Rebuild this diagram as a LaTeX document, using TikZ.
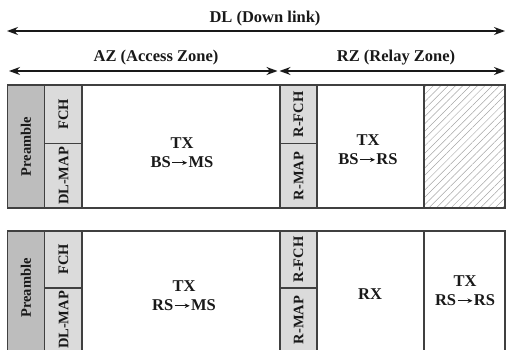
\documentclass[tikz,border=0pt]{standalone}
\usepackage{fontspec}
\setmainfont{Liberation Serif}
\usetikzlibrary{arrows.meta,patterns.meta}

% short arrow used inside the "from -> to" labels
\newcommand{\flowarrow}{\kern1pt\raisebox{2.8pt}{\tikz\draw[-{Stealth[length=5pt,width=4.5pt]},line width=0.8pt] (0pt,0pt) -- (15pt,0pt);}\kern1pt}

\tikzset{
  frame/.style={draw=black!75, line width=1.1pt},
  preamblecell/.style={frame, fill=black!26},
  ctrlcell/.style={frame, fill=black!14},
  datacell/.style={frame, fill=white},
  vlabel/.style={rotate=90, text=black!90, font=\bfseries\fontsize{14.5}{15}\selectfont, inner sep=0pt},
  hlabel/.style={align=center, text=black!90, font=\bfseries\fontsize{16.5}{19}\selectfont, inner sep=0pt},
  spanarrow/.style={{Stealth[length=11pt,width=8pt]}-{Stealth[length=11pt,width=8pt]}, line width=1.1pt, black!90},
}

\begin{document}
\begin{tikzpicture}[x=1pt,y=-1pt]
  \useasboundingbox (0,0) rectangle (508,350);
  \clip (0,0) rectangle (508,350);

  % zone spans
  \coordinate (dlL) at (7,31);   \coordinate (dlR) at (505,31);
  \coordinate (azL) at (9,71);   \coordinate (azR) at (277.5,71);
  \coordinate (rzL) at (279.5,71); \coordinate (rzR) at (505,71);
  \draw[spanarrow] (dlL) -- (dlR);
  \draw[spanarrow] (azL) -- (azR);
  \draw[spanarrow] (rzL) -- (rzR);
  \node[hlabel] (dltxt) at (265,19) {DL (Down link)};
  \node[hlabel] (aztxt) at (156,58) {AZ (Access Zone)};
  \node[hlabel] (rztxt) at (396,58) {RZ (Relay Zone)};

  % ---- BS frame ----
  \fill[pattern={Lines[angle=45,distance=5.2pt,line width=0.5pt]}, pattern color=black!35]
    (424,85) rectangle (505,208);
  \draw[datacell] (82,85) rectangle (280,208);
  \draw[datacell] (317,85) rectangle (424,208);
  \draw[frame] (424,85) rectangle (505,208);
  \draw[preamblecell] (7.5,85) rectangle (44.5,208);
  \draw[ctrlcell] (44.5,85) rectangle (82,143.5);
  \draw[ctrlcell] (44.5,143.5) rectangle (82,208);
  \draw[ctrlcell] (280,85) rectangle (317,143.5);
  \draw[ctrlcell] (280,143.5) rectangle (317,208);

  \node[vlabel] (preA) at (26,146.5) {Preamble};
  \node[vlabel] (fchA) at (63.5,114.5) {FCH};
  \node[vlabel] (mapA) at (63.5,176) {DL-MAP};
  \node[vlabel] (rfchA) at (298.5,114.5) {R-FCH};
  \node[vlabel] (rmapA) at (298.5,176) {R-MAP};
  \node[hlabel] (txA) at (182,153) {TX\\BS\flowarrow MS};
  \node[hlabel] (txB) at (368,150) {TX\\BS\flowarrow RS};

  % ---- RS frame ----
  \draw[datacell] (82,231) rectangle (280,356);
  \draw[datacell] (317,231) rectangle (424,356);
  \draw[datacell] (424,231) rectangle (505,356);
  \draw[preamblecell] (7.5,231) rectangle (44.5,356);
  \draw[ctrlcell] (44.5,231) rectangle (82,288);
  \draw[ctrlcell] (44.5,288) rectangle (82,356);
  \draw[ctrlcell] (280,231) rectangle (317,288);
  \draw[ctrlcell] (280,288) rectangle (317,356);

  \node[vlabel] (preB) at (26,288) {Preamble};
  \node[vlabel] (fchB) at (63.5,259.5) {FCH};
  \node[vlabel] (mapB) at (63.5,320) {DL-MAP};
  \node[vlabel] (rfchB) at (298.5,259.5) {R-FCH};
  \node[vlabel] (rmapB) at (298.5,320) {R-MAP};
  \node[hlabel] (txC) at (184,296) {TX\\RS\flowarrow MS};
  \node[hlabel] (rxD) at (370,294) {RX};
  \node[hlabel] (txE) at (465,291) {TX\\RS\flowarrow RS};
\end{tikzpicture}
\end{document}
